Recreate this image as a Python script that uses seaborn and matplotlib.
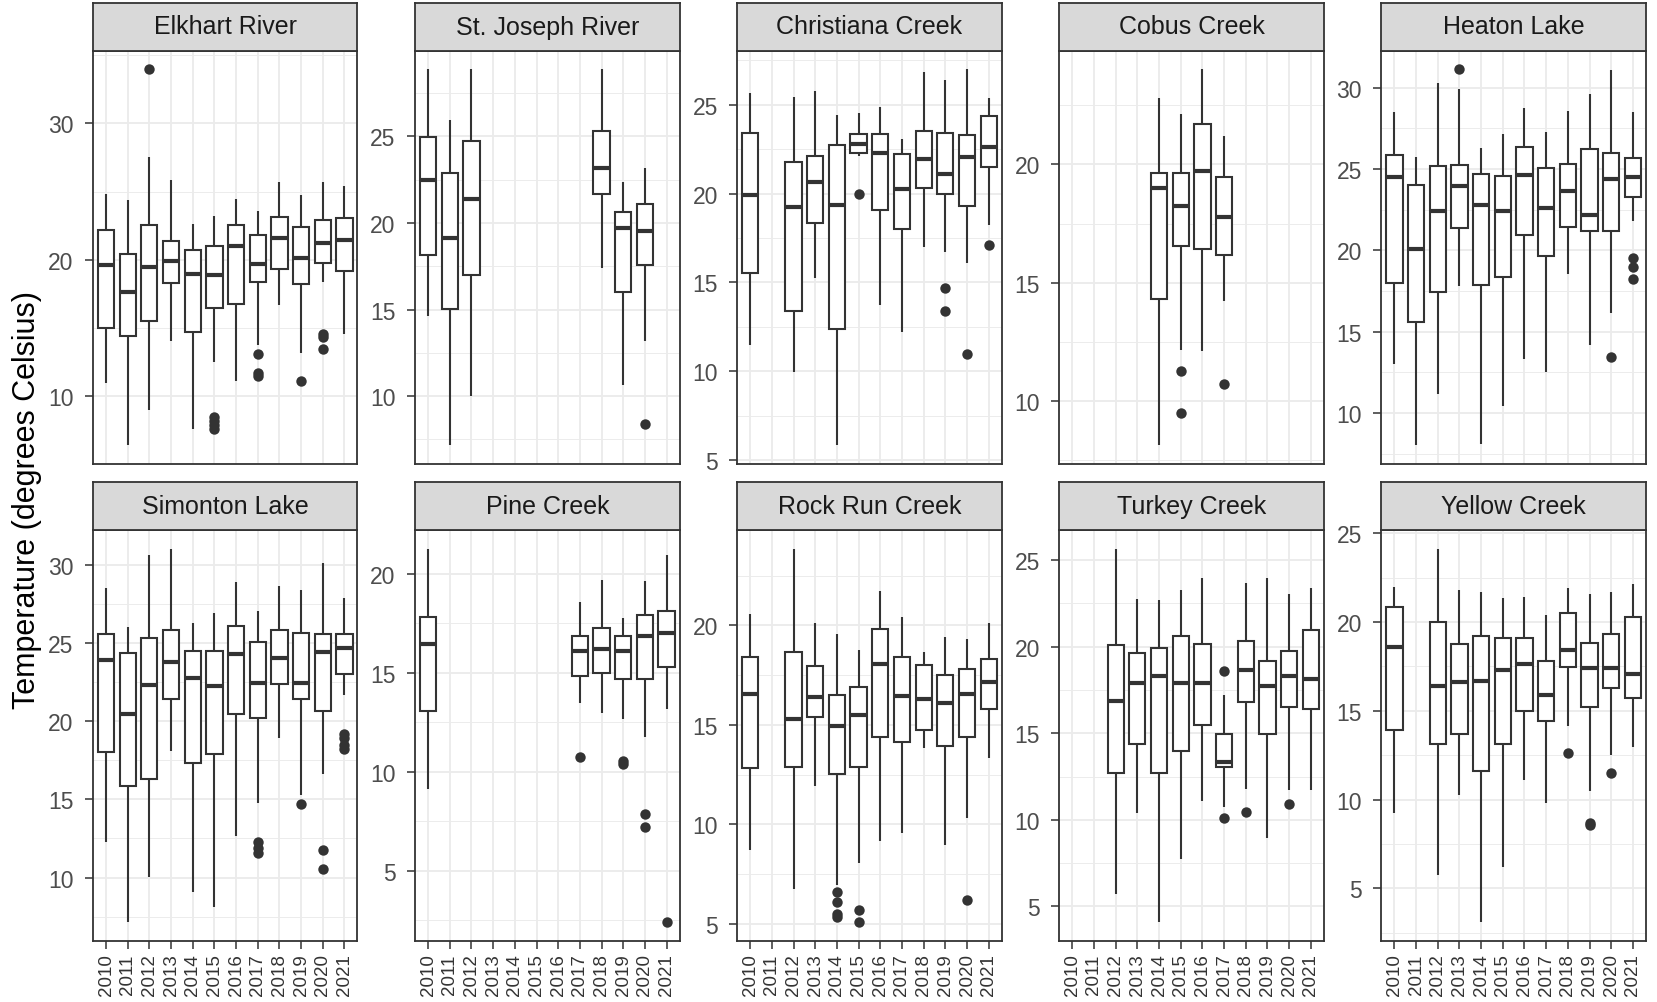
import numpy as np
import pandas as pd
import matplotlib
matplotlib.use("Agg")
import matplotlib.pyplot as plt
from matplotlib.ticker import MultipleLocator, AutoMinorLocator
import seaborn as sns

# ---------------- data ----------------
year_labels = [str(y) for y in range(2010, 2022)]

sites = ["Elkhart River", "St. Joseph River", "Christiana Creek", "Cobus Creek", "Heaton Lake",
         "Simonton Lake", "Pine Creek", "Rock Run Creek", "Turkey Creek", "Yellow Creek"]

# box stats per year: [lower whisker, Q1, median, Q3, upper whisker]
elkhart_years = [2010, 2011, 2012, 2013, 2014, 2015, 2016, 2017, 2018, 2019, 2020, 2021]
elkhart_box = [[11.0, 15.05, 19.6, 22.17, 24.8], [6.43, 14.43, 17.64, 20.42, 24.36],
               [9.0, 15.52, 19.46, 22.59, 27.54], [14.06, 18.3, 19.93, 21.38, 25.89],
               [7.61, 14.75, 18.99, 20.76, 22.64], [12.54, 16.45, 18.87, 21.06, 23.25],
               [11.16, 16.77, 21.03, 22.59, 24.48], [13.74, 18.42, 19.73, 21.82, 23.6],
               [16.72, 19.36, 21.63, 23.18, 25.74], [13.15, 18.25, 20.15, 22.41, 24.78],
               [18.37, 19.8, 21.28, 22.93, 25.74], [14.56, 19.19, 21.45, 23.05, 25.39]]
elkhart_out_years = [2012, 2015, 2015, 2015, 2015, 2017, 2017, 2017, 2019, 2020, 2020, 2020]
elkhart_out_vals = [33.97, 8.5, 8.2, 7.9, 7.6, 13.1, 11.7, 11.5, 11.16, 14.6, 14.35, 13.45]

stjoseph_years = [2010, 2011, 2012, 2018, 2019, 2020]
stjoseph_box = [[14.66, 18.16, 22.5, 24.97, 28.88], [7.17, 15.01, 19.11, 22.9, 25.94],
                [10.01, 16.98, 21.39, 24.72, 28.88], [17.43, 21.68, 23.19, 25.32, 28.88],
                [10.65, 16.01, 19.69, 20.62, 22.36], [13.17, 17.58, 19.55, 21.1, 23.17]]
stjoseph_out_years = [2020]
stjoseph_out_vals = [8.39]

christiana_years = [2010, 2012, 2013, 2014, 2015, 2016, 2017, 2018, 2019, 2020, 2021]
christiana_box = [[11.48, 15.52, 19.94, 23.42, 25.68], [9.97, 13.41, 19.25, 21.77, 25.46],
                  [15.24, 18.36, 20.66, 22.14, 25.79], [5.83, 12.36, 19.34, 22.73, 24.42],
                  [22.13, 22.26, 22.82, 23.33, 24.52], [13.73, 19.06, 22.31, 23.33, 24.89],
                  [12.19, 18.02, 20.28, 22.24, 23.1], [16.99, 20.34, 21.94, 23.54, 26.87],
                  [16.71, 20.0, 21.13, 23.42, 26.4], [16.09, 19.3, 22.07, 23.31, 27.0],
                  [18.21, 21.51, 22.6, 24.37, 25.36]]
christiana_out_years = [2015, 2019, 2019, 2020, 2021]
christiana_out_vals = [20.0, 14.71, 13.41, 10.95, 17.08]

cobus_years = [2014, 2015, 2016, 2017]
cobus_box = [[8.13, 14.32, 18.99, 19.65, 22.79], [12.17, 16.53, 18.26, 19.65, 22.15],
             [12.1, 16.44, 19.7, 21.69, 24.02], [14.22, 16.18, 17.76, 19.46, 21.19]]
cobus_out_years = [2015, 2015, 2017]
cobus_out_vals = [11.25, 9.48, 10.71]

heaton_years = [2010, 2011, 2012, 2013, 2014, 2015, 2016, 2017, 2018, 2019, 2020, 2021]
heaton_box = [[13.02, 17.98, 24.5, 25.87, 28.47], [8.02, 15.62, 20.1, 24.03, 25.74],
              [11.18, 17.46, 22.44, 25.17, 30.27], [17.79, 21.34, 23.97, 25.21, 29.88],
              [8.12, 17.87, 22.79, 24.69, 26.26], [10.43, 18.35, 22.44, 24.55, 27.17],
              [13.29, 20.93, 24.65, 26.36, 28.72], [12.5, 19.65, 22.58, 25.06, 27.29],
              [18.55, 21.45, 23.62, 25.33, 28.57], [14.17, 21.2, 22.17, 26.2, 29.61],
              [16.14, 21.2, 24.38, 25.97, 31.05], [21.8, 23.26, 24.5, 25.68, 28.47]]
heaton_out_years = [2013, 2020, 2021, 2021, 2021]
heaton_out_vals = [31.12, 13.45, 19.52, 18.97, 18.24]

simonton_years = [2010, 2011, 2012, 2013, 2014, 2015, 2016, 2017, 2018, 2019, 2020, 2021]
simonton_box = [[12.26, 18.01, 23.89, 25.56, 28.54], [7.14, 15.85, 20.48, 24.37, 26.01],
                [10.05, 16.28, 22.34, 25.3, 30.64], [18.1, 21.41, 23.78, 25.84, 31.03],
                [9.08, 17.34, 22.75, 24.5, 26.27], [8.15, 17.88, 22.23, 24.5, 26.92],
                [12.65, 20.43, 24.32, 26.1, 28.93], [14.75, 20.22, 22.42, 25.04, 27.07],
                [18.92, 22.38, 24.06, 25.84, 28.65], [15.29, 21.41, 22.42, 25.66, 28.39],
                [16.65, 20.65, 24.43, 25.56, 30.12], [21.69, 23.03, 24.71, 25.56, 27.85]]
simonton_out_years = [2017, 2017, 2017, 2019, 2020, 2020, 2021, 2021, 2021, 2021]
simonton_out_vals = [12.3, 11.9, 11.6, 14.7, 11.78, 10.55, 19.2, 18.9, 18.5, 18.25]

pine_years = [2010, 2017, 2018, 2019, 2020, 2021]
pine_box = [[9.15, 13.08, 16.48, 17.82, 21.28], [13.49, 14.86, 16.09, 16.89, 18.58],
            [12.98, 14.98, 16.21, 17.28, 19.71], [12.66, 14.68, 16.09, 16.89, 17.76],
            [11.76, 14.68, 16.85, 17.91, 19.63], [13.2, 15.32, 17.02, 18.13, 20.97]]
pine_out_years = [2017, 2019, 2019, 2020, 2020, 2021]
pine_out_vals = [10.73, 10.56, 10.39, 7.87, 7.24, 2.4]

rockrun_years = [2010, 2012, 2013, 2014, 2015, 2016, 2017, 2018, 2019, 2020, 2021]
rockrun_box = [[8.71, 12.83, 16.55, 18.44, 20.56], [6.77, 12.91, 15.28, 18.66, 23.86],
               [11.93, 15.4, 16.41, 17.94, 20.14], [6.97, 12.52, 14.97, 16.5, 19.59],
               [8.04, 12.91, 15.48, 16.89, 18.78], [9.17, 14.38, 18.07, 19.8, 21.71],
               [9.56, 14.13, 16.45, 18.44, 20.44], [13.84, 14.75, 16.29, 18.02, 18.66],
               [8.97, 13.96, 16.11, 17.51, 19.42], [10.32, 14.38, 16.55, 17.82, 19.32],
               [13.32, 15.82, 17.14, 18.32, 20.14]]
rockrun_out_years = [2014, 2014, 2014, 2014, 2015, 2015, 2020]
rockrun_out_vals = [6.6, 6.12, 5.5, 5.35, 5.7, 5.08, 6.18]

turkey_years = [2012, 2013, 2014, 2015, 2016, 2017, 2018, 2019, 2020, 2021]
turkey_box = [[5.74, 12.71, 16.84, 20.1, 25.66], [10.39, 14.38, 17.91, 19.65, 22.77],
              [4.08, 12.71, 18.3, 19.9, 22.68], [7.75, 14.0, 17.91, 20.62, 23.28],
              [11.11, 15.47, 17.91, 20.14, 23.96], [10.76, 13.03, 13.36, 14.98, 17.21],
              [11.8, 16.78, 18.63, 20.35, 23.65], [8.96, 14.98, 17.71, 19.16, 23.96],
              [11.74, 16.52, 18.3, 19.75, 23.03], [11.74, 16.39, 18.14, 20.98, 23.38]]
turkey_out_years = [2017, 2017, 2018, 2020]
turkey_out_vals = [18.57, 10.08, 10.43, 10.92]

yellow_years = [2010, 2012, 2013, 2014, 2015, 2016, 2017, 2018, 2019, 2020, 2021]
yellow_box = [[9.24, 13.9, 18.57, 20.84, 22.0], [5.75, 13.14, 16.38, 20.0, 24.13],
              [10.27, 13.71, 16.65, 18.74, 21.81], [3.09, 11.62, 16.67, 19.22, 21.7],
              [6.23, 13.14, 17.28, 19.09, 21.33], [11.09, 14.99, 17.62, 19.09, 21.43],
              [9.79, 14.42, 15.9, 17.79, 20.38], [14.13, 17.47, 18.42, 20.48, 21.9],
              [10.51, 15.22, 17.41, 18.84, 21.56], [12.51, 16.27, 17.41, 19.33, 21.7],
              [12.95, 15.7, 17.05, 20.27, 22.13]]
yellow_out_years = [2018, 2019, 2019, 2020]
yellow_out_vals = [12.65, 8.7, 8.55, 11.5]

site_data = {
    "Elkhart River": (elkhart_years, elkhart_box, elkhart_out_years, elkhart_out_vals),
    "St. Joseph River": (stjoseph_years, stjoseph_box, stjoseph_out_years, stjoseph_out_vals),
    "Christiana Creek": (christiana_years, christiana_box, christiana_out_years, christiana_out_vals),
    "Cobus Creek": (cobus_years, cobus_box, cobus_out_years, cobus_out_vals),
    "Heaton Lake": (heaton_years, heaton_box, heaton_out_years, heaton_out_vals),
    "Simonton Lake": (simonton_years, simonton_box, simonton_out_years, simonton_out_vals),
    "Pine Creek": (pine_years, pine_box, pine_out_years, pine_out_vals),
    "Rock Run Creek": (rockrun_years, rockrun_box, rockrun_out_years, rockrun_out_vals),
    "Turkey Creek": (turkey_years, turkey_box, turkey_out_years, turkey_out_vals),
    "Yellow Creek": (yellow_years, yellow_box, yellow_out_years, yellow_out_vals),
}

# ---------------- style ----------------
plt.rcParams["font.family"] = ["Liberation Sans", "DejaVu Sans"]
W, H = 1658, 1003
fig = plt.figure(figsize=(W / 100, H / 100), dpi=100)
fig.patch.set_facecolor("white")

major_step = {"Elkhart River": 10}
dark = "#333333"
grid_col = "#EBEBEB"

col_left0, col_step, panel_w = 93.0, 322.1, 264.5
rows = [dict(strip_top=3.5, strip_bot=51.5, panel_bot=465.0),
        dict(strip_top=483.0, strip_bot=531.0, panel_bot=942.0)]

for i, site in enumerate(sites):
    r, c = divmod(i, 5)
    geo = rows[r]
    left = (col_left0 + c * col_step) / W
    pw = panel_w / W
    ax = fig.add_axes([left, 1 - geo["panel_bot"] / H, pw,
                       (geo["panel_bot"] - geo["strip_bot"]) / H])
    sax = fig.add_axes([left, 1 - geo["strip_bot"] / H, pw,
                        (geo["strip_bot"] - geo["strip_top"]) / H])

    yrs, boxes, oy, ov = site_data[site]
    recs = []
    for y, b in zip(yrs, boxes):
        for v in b:
            recs.append({"year": str(y), "temp": v})
    df = pd.DataFrame(recs)
    odf = pd.DataFrame({"year": [str(y) for y in oy], "temp": ov})

    sns.boxplot(data=df, x="year", y="temp", order=year_labels, ax=ax,
                whis=(0, 100), width=0.75, color="white", linecolor=dark,
                linewidth=1.5, showcaps=False, showfliers=False,
                medianprops={"linewidth": 3.0})
    sns.stripplot(data=odf, x="year", y="temp", order=year_labels, ax=ax,
                  jitter=False, color=dark, size=7.5, linewidth=0, zorder=5)

    allv = np.concatenate([np.ravel(boxes), np.asarray(ov, dtype=float)])
    lo, hi = allv.min(), allv.max()
    pad = 0.05 * (hi - lo)
    ax.set_ylim(lo - pad, hi + pad)
    ax.set_xlim(-0.6, 11.6)

    ax.yaxis.set_major_locator(MultipleLocator(major_step.get(site, 5)))
    ax.yaxis.set_minor_locator(AutoMinorLocator(2))
    ax.set_axisbelow(True)
    ax.grid(which="major", axis="both", color=grid_col, linewidth=1.3)
    ax.grid(which="minor", axis="y", color=grid_col, linewidth=0.65)
    ax.set_facecolor("white")
    ax.set_xlabel("")
    ax.set_ylabel("")
    for sp in ax.spines.values():
        sp.set_visible(True)
        sp.set_color(dark)
        sp.set_linewidth(1.3)
    ax.tick_params(axis="y", which="major", length=6, width=1.1, color=dark,
                   labelsize=16.5, labelcolor="#4D4D4D", pad=8)
    ax.tick_params(axis="y", which="minor", length=0)
    ax.set_xticks(range(len(year_labels)))
    if r == 1:
        ax.set_xticklabels(year_labels, rotation=90, va="top", ha="center")
        ax.tick_params(axis="x", length=6, width=1.1, color=dark,
                       labelsize=13.5, labelcolor="#333333", pad=3)
    else:
        ax.set_xticklabels([])
        ax.tick_params(axis="x", length=0)

    sax.set_facecolor("#D9D9D9")
    sax.set_xticks([])
    sax.set_yticks([])
    for sp in sax.spines.values():
        sp.set_color(dark)
        sp.set_linewidth(1.3)
    sax.text(0.5, 0.5, site, transform=sax.transAxes, ha="center", va="center",
             fontsize=18, color="#1A1A1A")

fig.text(27 / W, 1 - 500 / H, "Temperature (degrees Celsius)", rotation=90,
         ha="center", va="center", fontsize=22, color="black")

fig.savefig("out.png", dpi=100)
